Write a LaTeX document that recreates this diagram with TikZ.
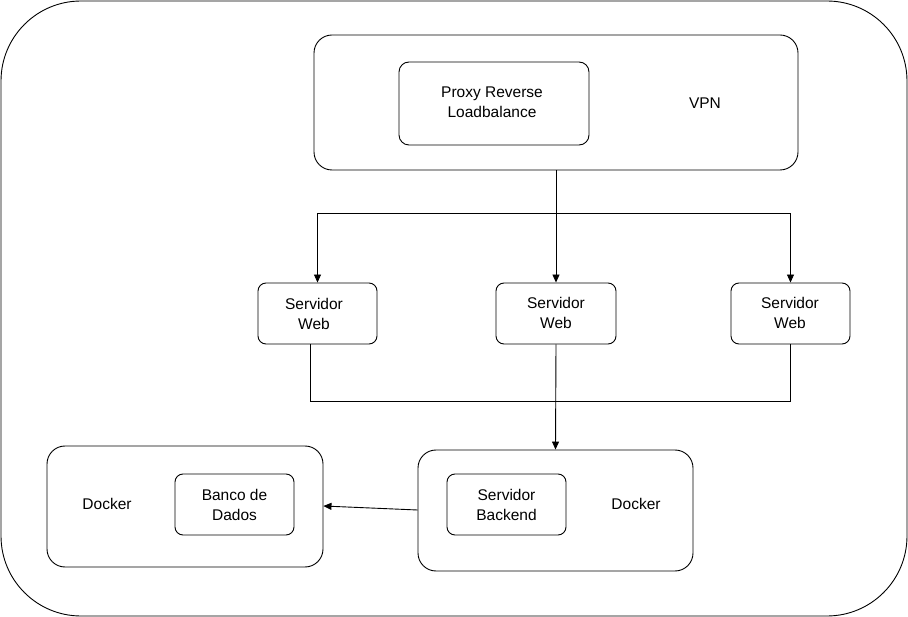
\documentclass[tikz,border=0pt]{standalone}
\usepackage{fontspec}
\setmainfont{Liberation Sans}
\usetikzlibrary{arrows.meta}
\begin{document}
\begin{tikzpicture}[x=1pt,y=-1pt,
  box/.style={draw=black,line width=0.9pt,rounded corners=#1},
  box/.default=8pt,
  lbl/.style={font=\fontsize{15.5}{20}\selectfont,align=center,inner sep=0pt},
  conn/.style={draw=black,line width=0.9pt},
  arr/.style={conn,-{Triangle[length=8pt,width=7pt]}}]
\useasboundingbox (0,0) rectangle (908,617);
\draw[box=80pt] (1,1) rectangle (907,616);
% VPN
\node[box=18pt,minimum width=484pt,minimum height=135pt] (vpn) at (556,102.5) {};
\node[box=10pt,minimum width=190pt,minimum height=83pt,lbl] (proxy) at (494,103.5) {};
\node[lbl] (proxyt) at (492,102) {Proxy Reverse\\Loadbalance};
\node[lbl] (vpnt) at (705,103) {VPN};
% web servers
\node[box=8pt,minimum width=119pt,minimum height=61pt] (w1) at (317.5,313.5) {};
\node[lbl] (w1t) at (314,314) {Servidor\\Web};
\node[box=8pt,minimum width=120pt,minimum height=61pt] (w2) at (556,313.5) {};
\node[lbl] (w2t) at (556,313) {Servidor\\Web};
\node[box=8pt,minimum width=119pt,minimum height=61pt] (w3) at (790.5,313.5) {};
\node[lbl] (w3t) at (790,313) {Servidor\\Web};
% dockers
\node[box=18pt,minimum width=276pt,minimum height=121pt] (d1) at (185,506.5) {};
\node[lbl] (d1t) at (107,504) {Docker};
\node[box=8pt,minimum width=119pt,minimum height=61pt,lbl] (db) at (234.5,504.5) {Banco de\\Dados};
\node[box=18pt,minimum width=275pt,minimum height=121pt] (d2) at (555.5,510.5) {};
\node[box=8pt,minimum width=119pt,minimum height=61pt,lbl] (be) at (506.5,504.5) {Servidor\\Backend};
\node[lbl] (d2t) at (636,504) {Docker};
% connectors
\coordinate (s) at (556,213);
\draw[arr] (vpn.south) -- (w2.north);
\draw[arr] (s) -| (w1.north);
\draw[arr] (s) -| (w3.north);
\coordinate (b1) at (310,401);
\draw[conn] (w1.south -| b1) -- (b1) -| (w3.south);
\draw[arr] (w2.south) -- (d2.north);
\draw[arr] (d2.west |- 0,510) -- (d1.east |- 0,506);
\end{tikzpicture}
\end{document}
